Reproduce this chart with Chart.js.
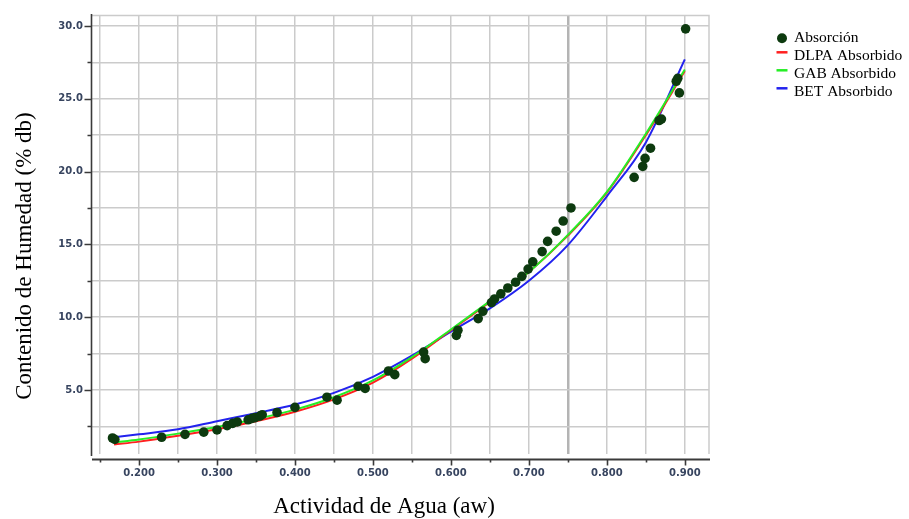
<!DOCTYPE html>
<html><head><meta charset="utf-8">
<script src="https://cdn.jsdelivr.net/npm/chart.js@4.4.1/dist/chart.umd.min.js"></script>
<style>html,body{margin:0;padding:0;background:#fff;}#wrap{position:relative;width:909px;height:519px;}</style>
</head><body><div id="wrap"><canvas id="c" width="909" height="519"></canvas></div>
<script>
// ---- data ----
const seriesNames = ['Absorción', 'DLPA Absorbido', 'GAB Absorbido', 'BET Absorbido'];
const xTitle = 'Actividad de Agua (aw)';
const yTitle = 'Contenido de Humedad (% db)';
const xMajorTicks = [0.2, 0.3, 0.4, 0.5, 0.6, 0.7, 0.8, 0.9];
const yMajorTicks = [5, 10, 15, 20, 25, 30];

const absorcionX = [0.166, 0.169, 0.229, 0.259, 0.283, 0.300, 0.313, 0.320, 0.326, 0.340, 0.345, 0.349, 0.355, 0.358, 0.377, 0.400,
  0.441, 0.454, 0.481, 0.490, 0.520, 0.528, 0.565, 0.567, 0.607, 0.609, 0.635, 0.641, 0.652, 0.656, 0.664, 0.673, 0.683, 0.691,
  0.699, 0.705, 0.717, 0.724, 0.735, 0.744, 0.754, 0.835, 0.846, 0.849, 0.856, 0.867, 0.870, 0.889, 0.891, 0.893, 0.901];
const absorcionY = [1.70, 1.60, 1.75, 1.95, 2.10, 2.25, 2.55, 2.70, 2.80, 2.95, 3.05, 3.10, 3.20, 3.30, 3.45, 3.80,
  4.50, 4.30, 5.25, 5.10, 6.30, 6.05, 7.60, 7.15, 8.75, 9.10, 9.90, 10.40, 11.00, 11.25, 11.60, 12.00, 12.40, 12.80,
  13.30, 13.80, 14.50, 15.20, 15.90, 16.60, 17.50, 19.60, 20.35, 20.90, 21.60, 23.50, 23.60, 26.20, 26.40, 25.40, 29.80];

const curveX = [0.168, 0.20, 0.25, 0.30, 0.35, 0.40, 0.45, 0.50, 0.55, 0.60, 0.65, 0.70, 0.75, 0.80, 0.85, 0.90];
const dlpaY = [1.25, 1.45, 1.85, 2.30, 2.85, 3.50, 4.35, 5.50, 7.15, 9.10, 11.05, 13.10, 15.60, 18.55, 22.50, 26.90];
const gabY  = [1.40, 1.60, 2.00, 2.45, 3.00, 3.65, 4.50, 5.65, 7.25, 9.15, 11.10, 13.10, 15.65, 18.60, 22.60, 27.00];
const betY  = [1.75, 1.95, 2.30, 2.85, 3.40, 4.00, 4.80, 5.90, 7.35, 9.00, 10.60, 12.50, 14.95, 18.30, 22.00, 27.70];

// ---- styles ----
const pointColor = '#0d3a0f';
const lineColors = ['#ff2020', '#25ee25', '#2222ee'];
const tickColor = '#37445f';
const gridColor = '#cbcbcb';
const axisColor = '#3a3a3a';

function pts(xs, ys) { return xs.map((x, i) => ({ x: x, y: ys[i] })); }
const near = (v, arr) => arr.some(a => Math.abs(a - v) < 1e-6);

const axesPlugin = {
  id: 'axesDeco',
  afterDraw(chart) {
    const { ctx, chartArea: a, scales: { x, y } } = chart;
    ctx.save();
    // top / right frame
    ctx.strokeStyle = gridColor; ctx.lineWidth = 1.5;
    ctx.beginPath();
    ctx.moveTo(a.left, a.top + 0.5); ctx.lineTo(a.right, a.top + 0.5); ctx.lineTo(a.right, a.bottom);
    ctx.stroke();
    // y axis
    ctx.strokeStyle = axisColor; ctx.lineWidth = 1.6;
    const yx = a.left - 0.5;
    ctx.beginPath();
    ctx.moveTo(yx, a.top - 1); ctx.lineTo(yx, a.bottom + 2);
    y.ticks.forEach(t => {
      const p = Math.round(y.getPixelForValue(t.value)) + 0.5;
      const len = near(t.value, yMajorTicks) ? 7 : 4;
      ctx.moveTo(yx, p); ctx.lineTo(yx - len, p);
    });
    ctx.stroke();
    // x axis (offset below plot)
    const xy = a.bottom + 5.5;
    ctx.lineWidth = 2;
    ctx.beginPath();
    ctx.moveTo(a.left, xy); ctx.lineTo(a.right + 1, xy);
    ctx.stroke();
    ctx.lineWidth = 1.6;
    ctx.beginPath();
    x.ticks.forEach(t => {
      const p = Math.round(x.getPixelForValue(t.value)) + 0.5;
      const len = near(t.value, xMajorTicks) ? 6 : 3;
      ctx.moveTo(p, xy); ctx.lineTo(p, xy + len);
    });
    ctx.stroke();
    // axis titles
    ctx.fillStyle = '#000';
    ctx.font = '23px "Liberation Serif"';
    ctx.textAlign = 'center'; ctx.textBaseline = 'alphabetic';
    ctx.fillText(xTitle, 384, 513);
    ctx.save();
    ctx.translate(31, 256);
    ctx.rotate(-Math.PI / 2);
    ctx.fillText(yTitle, 0, 0);
    ctx.restore();
    // legend
    ctx.font = '15.5px "Liberation Serif"';
    ctx.textAlign = 'left';
    chart.data.datasets.forEach((ds, i) => {
      const base = 42.3 + i * 18;
      const cx = 782;
      if (i === 0) {
        ctx.fillStyle = ds.backgroundColor;
        ctx.beginPath(); ctx.arc(cx, base - 4, 5, 0, Math.PI * 2); ctx.fill();
      } else {
        ctx.strokeStyle = ds.borderColor; ctx.lineWidth = 2.5;
        ctx.beginPath(); ctx.moveTo(cx - 5.5, base - 8); ctx.lineTo(cx + 5.5, base - 8); ctx.stroke();
      }
      ctx.fillStyle = '#000';
      ctx.fillText(ds.label, 794, base);
    });
    ctx.restore();
  }
};

const tickFont = { family: '"DejaVu Sans"', size: 10, weight: 'bold' };

new Chart(document.getElementById('c'), {
  type: 'scatter',
  data: {
    datasets: [
      { label: seriesNames[0], data: pts(absorcionX, absorcionY), backgroundColor: pointColor, borderColor: pointColor,
        pointRadius: 4.8, pointBorderWidth: 0, showLine: false, order: 0 },
      { label: seriesNames[1], data: pts(curveX, dlpaY), borderColor: lineColors[0], backgroundColor: lineColors[0],
        showLine: true, pointRadius: 0, borderWidth: 2, cubicInterpolationMode: 'monotone', order: 2 },
      { label: seriesNames[2], data: pts(curveX, gabY), borderColor: lineColors[1], backgroundColor: lineColors[1],
        showLine: true, pointRadius: 0, borderWidth: 2, cubicInterpolationMode: 'monotone', order: 1 },
      { label: seriesNames[3], data: pts(curveX, betY), borderColor: lineColors[2], backgroundColor: lineColors[2],
        showLine: true, pointRadius: 0, borderWidth: 2, cubicInterpolationMode: 'monotone', order: 3 }
    ]
  },
  options: {
    responsive: false,
    animation: false,
    devicePixelRatio: 1,
    layout: { padding: { top: 10, right: 200, left: 0, bottom: 0 } },
    plugins: { legend: { display: false }, tooltip: { enabled: false }, title: { display: false } },
    scales: {
      x: {
        type: 'linear', min: 0.1397, max: 0.931,
        border: { display: false },
        grid: {
          drawTicks: false,
          color: c => (c.tick && Math.abs(c.tick.value - 0.75) < 1e-6) ? '#b4b4b4' : gridColor,
          lineWidth: c => (c.tick && Math.abs(c.tick.value - 0.75) < 1e-6) ? 2.5 : 1.5
        },
        ticks: {
          stepSize: 0.05, includeBounds: false, autoSkip: false, maxRotation: 0, padding: 13,
          color: tickColor, font: tickFont,
          callback: v => near(v, xMajorTicks) ? v.toFixed(3) : ''
        },
        afterFit: s => { s.height = 65; }
      },
      y: {
        type: 'linear', min: 0.6, max: 30.75,
        border: { display: false },
        grid: { drawTicks: false, color: gridColor, lineWidth: 1.5 },
        ticks: {
          stepSize: 2.5, includeBounds: false, autoSkip: false, padding: 9,
          color: tickColor, font: tickFont,
          callback: v => near(v, yMajorTicks) ? v.toFixed(1) : ''
        },
        afterFit: s => { s.width = 92; }
      }
    }
  },
  plugins: [axesPlugin]
});
</script>
</body></html>
